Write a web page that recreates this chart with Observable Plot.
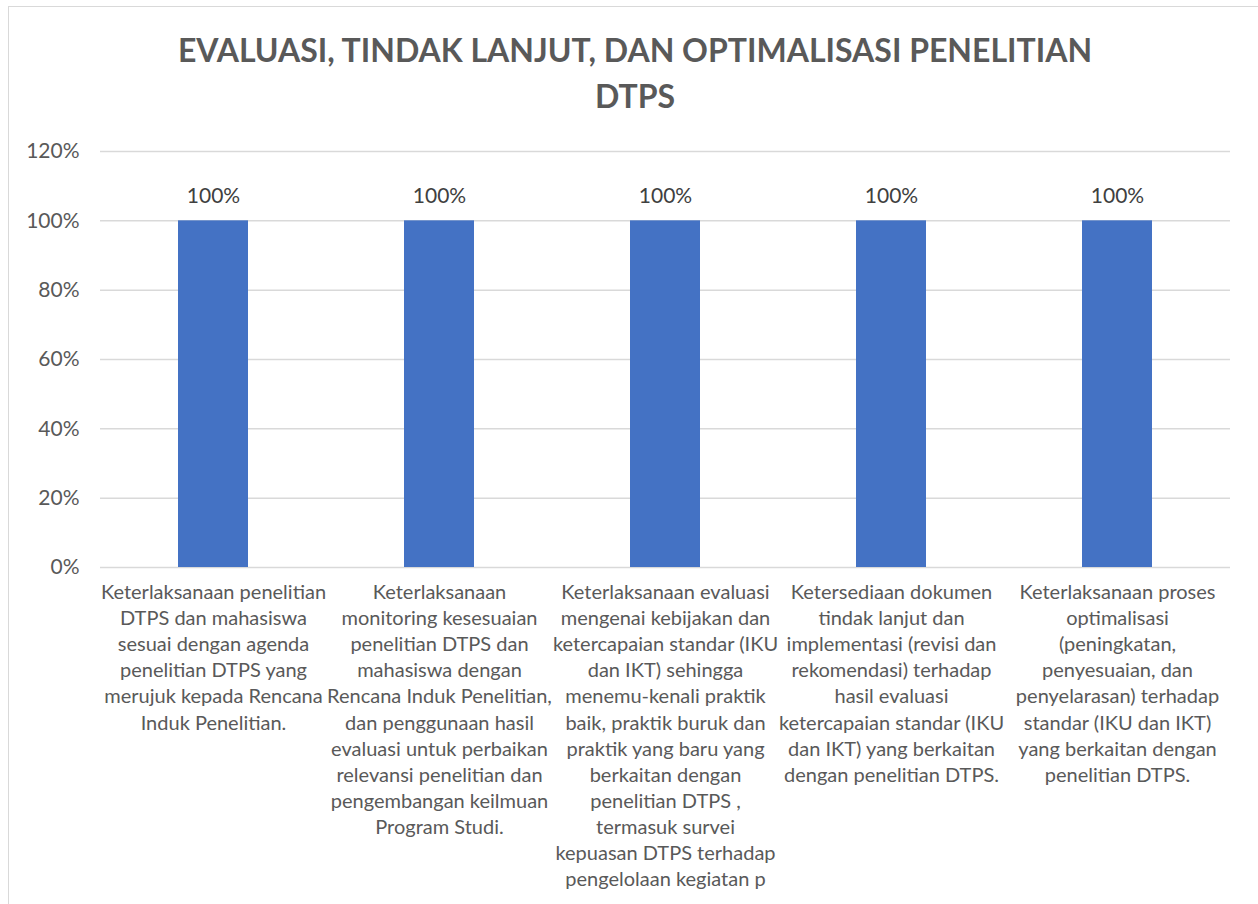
<!DOCTYPE html>
<html>
<head>
<meta charset="utf-8">
<script src="https://cdn.jsdelivr.net/npm/d3@7"></script>
<script src="https://cdn.jsdelivr.net/npm/@observablehq/plot@0.6"></script>
<style>
  html, body { margin: 0; padding: 0; background: #fff; overflow: hidden; width: 1258px; height: 904px; }
  #frame { position: absolute; left: 8px; top: 6px; width: 1400px; height: 1100px; border: 1.5px solid #d9d9d9; box-sizing: border-box; }
  #title { position: absolute; left: 0; top: 27px; width: 1270px; text-align: center; font-family: Lato, sans-serif; font-weight: bold; font-size: 32px; line-height: 46px; color: #595959; }
  #chart { position: absolute; left: 0; top: 120px; }
</style>
</head>
<body>
<div id="frame"></div>
<div id="title">EVALUASI, TINDAK LANJUT, DAN OPTIMALISASI PENELITIAN<br>DTPS</div>
<div id="chart"></div>
<script>
const categories = [
  "Keterlaksanaan penelitian\nDTPS dan mahasiswa\nsesuai dengan agenda\npenelitian DTPS yang\nmerujuk kepada Rencana\nInduk Penelitian.",
  "Keterlaksanaan\nmonitoring kesesuaian\npenelitian DTPS dan\nmahasiswa dengan\nRencana Induk Penelitian,\ndan penggunaan hasil\nevaluasi untuk perbaikan\nrelevansi penelitian dan\npengembangan keilmuan\nProgram Studi.",
  "Keterlaksanaan evaluasi\nmengenai kebijakan dan\nketercapaian standar (IKU\ndan IKT) sehingga\nmenemu-kenali praktik\nbaik, praktik buruk dan\npraktik yang baru yang\nberkaitan dengan\npenelitian DTPS ,\ntermasuk survei\nkepuasan DTPS terhadap\npengelolaan kegiatan p",
  "Ketersediaan dokumen\ntindak lanjut dan\nimplementasi (revisi dan\nrekomendasi) terhadap\nhasil evaluasi\nketercapaian standar (IKU\ndan IKT) yang berkaitan\ndengan penelitian DTPS.",
  "Keterlaksanaan proses\noptimalisasi\n(peningkatan,\npenyesuaian, dan\npenyelarasan) terhadap\nstandar (IKU dan IKT)\nyang berkaitan dengan\npenelitian DTPS."
];
const values = [1.0, 1.0, 1.0, 1.0, 1.0];
const yTicks = [0, 0.2, 0.4, 0.6, 0.8, 1.0, 1.2];

const data = categories.map((c, i) => ({category: c, value: values[i]}));
const pct = d3.format(".0%");

const chart = Plot.plot({
  width: 1258,
  height: 784,
  marginTop: 31,
  marginBottom: 337,
  marginLeft: 100,
  marginRight: 28,
  style: { fontFamily: "Lato, sans-serif", background: "transparent" },
  x: { domain: categories, paddingInner: 0.69, paddingOuter: 0.345, axis: null },
  y: { domain: [0, 1.2], ticks: yTicks },
  marks: [
    Plot.gridY(yTicks, { stroke: "#d9d9d9", strokeOpacity: 1, strokeWidth: 1.5 }),
    Plot.axisY(yTicks, { tickSize: 0, tickPadding: 21, tickFormat: pct, fontSize: 21, fill: "#595959", label: null }),
    Plot.barY(data, { x: "category", y: "value", fill: "#4472c4" }),
    Plot.text(data, { x: "category", y: "value", text: d => pct(d.value), dy: -25, fontSize: 21, fill: "#404040" }),
    Plot.text(data, { x: "category", y: () => 0, text: "category", lineAnchor: "top", dy: 13, fontSize: 20, lineHeight: 1.305, fill: "#595959" })
  ]
});
document.getElementById("chart").appendChild(chart);
</script>
</body>
</html>
